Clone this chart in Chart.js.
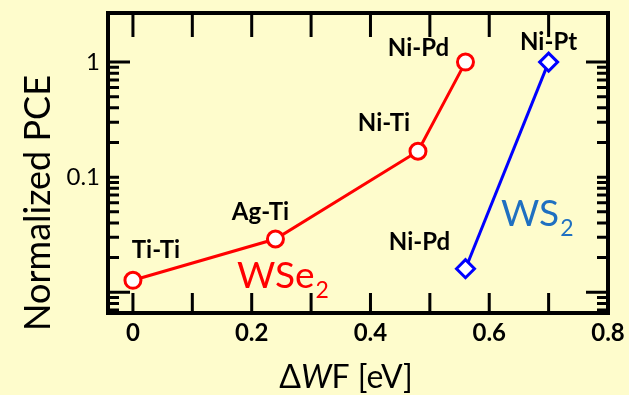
<!DOCTYPE html>
<html>
<head>
<meta charset="utf-8">
<script src="https://cdn.jsdelivr.net/npm/chart.js@4.4.1/dist/chart.umd.min.js"></script>
<style>
html, body { margin: 0; padding: 0; background: #fefccc; }
#wrap { width: 629px; height: 395px; }
</style>
</head>
<body>
<div id="wrap"><canvas id="myChart" width="629" height="395"></canvas></div>
<script>
/*global Chart*/

// WSe2 devices
const wse2Contacts = ['Ti-Ti', 'Ag-Ti', 'Ni-Ti', 'Ni-Pd'];
const wse2DeltaWF = [0, 0.24, 0.48, 0.56];
const wse2PCE = [0.0127, 0.029, 0.168, 1.0];

// WS2 devices
const ws2Contacts = ['Ni-Pd', 'Ni-Pt'];
const ws2DeltaWF = [0.56, 0.70];
const ws2PCE = [0.016, 1.0];

// ticks
const xTickValues = [0, 0.1, 0.2, 0.3, 0.4, 0.5, 0.6, 0.7, 0.8];
const xTickLabels = ['0', '', '0.2', '', '0.4', '', '0.6', '', '0.8'];
const yTickValues = [0.007, 0.008, 0.009, 0.01, 0.02, 0.03, 0.04, 0.05, 0.06, 0.07, 0.08, 0.09,
    0.1, 0.2, 0.3, 0.4, 0.5, 0.6, 0.7, 0.8, 0.9, 1];
const yTickLabels = ['', '', '', '', '', '', '', '', '', '', '', '',
    '0.1', '', '', '', '', '', '', '', '', '1'];
const yLongTicks = [0.01, 1];

const FONT = 'Lato, "Open Sans", sans-serif';

// label offsets (px) from each point
const wse2LabelOffsets = [[23, -30], [-15, -27], [-34, -28], [-47, -14]];
const ws2LabelOffsets = [[-46, -26], [0, -20]];

const toPoints = (xs, ys) => xs.map((x, i) => ({x: x, y: ys[i]}));

const frameTicks = {
    id: 'frameTicks',
    beforeDraw(chart) {
        const ctx = chart.ctx;
        ctx.save();
        ctx.fillStyle = '#fefccc';
        ctx.fillRect(0, 0, chart.width, chart.height);
        ctx.restore();
    },
    beforeDatasetsDraw(chart) {
        const {ctx, chartArea: a, scales: {x, y}} = chart;
        ctx.save();
        ctx.strokeStyle = '#000';
        ctx.lineWidth = 3;
        ctx.beginPath();
        x.ticks.forEach(t => {
            const px = x.getPixelForValue(t.value);
            ctx.moveTo(px, a.bottom); ctx.lineTo(px, a.bottom - 20);
            ctx.moveTo(px, a.top); ctx.lineTo(px, a.top + 24);
        });
        y.ticks.forEach(t => {
            const py = y.getPixelForValue(t.value);
            const len = yLongTicks.includes(t.value) ? 22 : 11;
            ctx.moveTo(a.left, py); ctx.lineTo(a.left + len, py);
            ctx.moveTo(a.right, py); ctx.lineTo(a.right - len, py);
        });
        ctx.stroke();
        ctx.lineWidth = 4;
        ctx.strokeRect(a.left, a.top, a.right - a.left, a.bottom - a.top);
        ctx.restore();
    },
    afterDatasetsDraw(chart) {
        const {ctx, scales: {x, y}} = chart;
        ctx.save();
        ctx.fillStyle = '#000';
        ctx.font = 'bold 24px ' + FONT;
        ctx.textAlign = 'center';
        ctx.textBaseline = 'middle';
        wse2Contacts.forEach((lab, i) => {
            const o = wse2LabelOffsets[i];
            ctx.fillText(lab, x.getPixelForValue(wse2DeltaWF[i]) + o[0], y.getPixelForValue(wse2PCE[i]) + o[1]);
        });
        ws2Contacts.forEach((lab, i) => {
            const o = ws2LabelOffsets[i];
            ctx.fillText(lab, x.getPixelForValue(ws2DeltaWF[i]) + o[0], y.getPixelForValue(ws2PCE[i]) + o[1]);
        });

        // series names
        ctx.textAlign = 'left';
        ctx.textBaseline = 'alphabetic';
        ctx.fillStyle = '#ff0000';
        ctx.font = '37px ' + FONT;
        ctx.fillText('WSe', 237, 288);
        let w = ctx.measureText('WSe').width;
        ctx.font = '23px ' + FONT;
        ctx.fillText('2', 237 + w + 1, 298);

        ctx.fillStyle = '#1f70c1';
        ctx.font = '37px ' + FONT;
        ctx.fillText('WS', 501, 226);
        w = ctx.measureText('WS').width;
        ctx.font = '23px ' + FONT;
        ctx.fillText('2', 501 + w + 1, 236);

        // axis titles
        ctx.fillStyle = '#000';
        const parts = [['Δ', '32px '], ['W', 'italic 32px '], ['F [eV]', '32px ']];
        let total = 0;
        parts.forEach(p => { ctx.font = p[1] + FONT; total += ctx.measureText(p[0]).width; });
        let cx = 346 - total / 2;
        parts.forEach(p => { ctx.font = p[1] + FONT; ctx.fillText(p[0], cx, 388); cx += ctx.measureText(p[0]).width; });

        ctx.translate(50, 203);
        ctx.rotate(-Math.PI / 2);
        ctx.textAlign = 'center';
        ctx.font = '36px ' + FONT;
        ctx.fillText('Normalized PCE', 0, 0);
        ctx.restore();
    }
};

const config = {
    type: 'line',
    data: {
        datasets: [{
            label: 'WSe2',
            data: toPoints(wse2DeltaWF, wse2PCE),
            borderColor: '#ff0000',
            backgroundColor: '#ffffff',
            borderWidth: 3,
            pointStyle: 'circle',
            pointRadius: 8,
            pointBorderWidth: 3,
            pointBackgroundColor: '#ffffff',
            pointBorderColor: '#ff0000'
        }, {
            label: 'WS2',
            data: toPoints(ws2DeltaWF, ws2PCE),
            borderColor: '#0000ff',
            backgroundColor: '#ffffff',
            borderWidth: 3,
            pointStyle: 'rectRot',
            pointRadius: 9,
            pointBorderWidth: 3,
            pointBackgroundColor: '#ffffff',
            pointBorderColor: '#0000ff'
        }]
    },
    options: {
        responsive: false,
        animation: false,
        layout: {padding: {top: 13, right: 21, left: 0, bottom: 0}},
        plugins: {
            legend: {display: false},
            tooltip: {enabled: false}
        },
        scales: {
            x: {
                type: 'linear',
                min: -0.042,
                max: 0.8,
                grid: {display: false, drawTicks: false},
                border: {display: false},
                afterFit(scale) {
                    scale.height = 82;
                    scale.paddingLeft = 0;
                    scale.paddingRight = 0;
                },
                afterBuildTicks(scale) { scale.ticks = xTickValues.map(v => ({value: v})); },
                ticks: {
                    autoSkip: false,
                    maxRotation: 0,
                    padding: 6,
                    color: '#000',
                    font: {family: FONT, size: 24, weight: 'bold'},
                    callback: (v, i) => xTickLabels[i]
                }
            },
            y: {
                type: 'logarithmic',
                min: 0.0066,
                max: 2.67,
                grid: {display: false, drawTicks: false},
                border: {display: false},
                afterFit(scale) {
                    scale.width = 108;
                    scale.paddingTop = 0;
                    scale.paddingBottom = 0;
                },
                afterBuildTicks(scale) { scale.ticks = yTickValues.map(v => ({value: v})); },
                ticks: {
                    autoSkip: false,
                    padding: 8,
                    color: '#000',
                    font: {family: FONT, size: 24},
                    callback: (v, i) => yTickLabels[i]
                }
            }
        }
    },
    plugins: [frameTicks]
};

const graphe = new Chart(document.getElementById('myChart'), config);
</script>
</body>
</html>
